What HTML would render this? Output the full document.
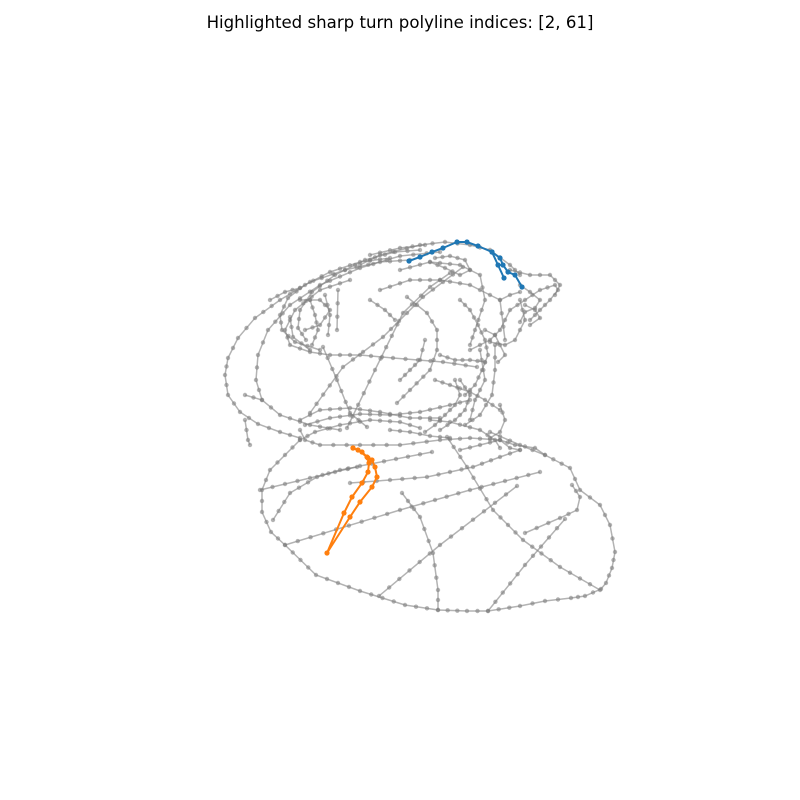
<!DOCTYPE html>
<html><head><meta charset="utf-8"><style>
body{margin:0;background:#fff;width:800px;height:800px;overflow:hidden}
svg{display:block}
</style></head><body>
<svg id="chart" width="800" height="800" viewBox="0 0 800 800" xmlns="http://www.w3.org/2000/svg">
<text x="400" y="28" text-anchor="middle" font-family="DejaVu Sans, Liberation Sans, sans-serif" font-size="16.6" fill="#000">Highlighted sharp turn polyline indices: [2, 61]</text>
<g id="grey"></g><g id="hl"></g>
</svg>
<script>
const greyLines = [
[[410,260],[380,262],[345,270],[310,282],[280,300],[255,318],[238,338],[228,358],[225,375],[228,395],[240,412],[258,424],[280,432],[300,438]],
[[440,252],[400,256],[360,268],[320,285],[290,305],[268,330],[258,355],[256,380],[262,400],[280,415],[310,425],[340,430]],
[[350,280],[320,290],[295,310],[285,330],[290,345],[310,352],[330,355],[360,355],[393,358],[443,362],[477,367]],
[[300,430],[305,440],[320,445],[360,445],[400,445],[440,440],[470,438],[500,440]],
[[300,440],[285,455],[270,470],[262,490],[262,512],[271,532],[285,545],[316,575],[360,591],[405,605],[438,610],[467,611],[488,611],[520,606],[545,601],[571,598],[585,596],[601,589],[606,583],[612,568],[615,552],[610,525],[600,505],[580,490],[570,468],[545,455],[520,445],[490,432]],
[[260,490],[310,478],[360,466],[432,452]],
[[285,545],[400,510],[470,490],[540,472]],
[[379,596],[440,545],[517,486]],
[[488,611],[525,565],[565,519]],
[[402,493],[420,517],[433,553],[438,590],[438,610]],
[[447,437],[467,467],[493,510],[523,540],[560,567],[600,590]],
[[273,520],[290,493],[317,477],[340,470],[357,467]],
[[350,483],[390,480],[427,477],[473,467],[500,457],[520,450]],
[[525,533],[560,518],[577,510],[580,497],[572,485]],
[[310,413],[343,367],[383,337],[423,297],[463,267]],
[[347,428],[375,370],[403,313],[430,287],[450,273]],
[[407,297],[427,313],[437,330],[437,350],[430,370],[410,390],[397,403]],
[[290,317],[293,337],[310,350]],
[[338,290],[337,330]],
[[323,347],[337,380],[350,413],[367,427]],
[[470,350],[490,340],[500,330],[505,320],[510,310],[525,300],[540,290],[555,285],[558,290],[550,300],[540,310],[530,320]],
[[510,270],[530,275],[550,275],[560,285],[555,295]],
[[460,380],[470,395],[465,410],[455,420],[440,430]],
[[480,350],[485,380],[475,400],[470,420]],
[[495,345],[495,370],[492,395],[480,415],[465,425]],
[[360,265],[380,255],[420,245],[445,242],[470,245],[490,250],[510,265],[520,275]],
[[380,290],[410,280],[440,280],[470,285],[490,295],[500,300],[505,340]],
[[300,300],[320,300],[330,310],[320,325],[305,330]],
[[400,270],[430,262],[460,265],[480,275],[485,300],[475,330],[470,345]],
[[520,300],[525,320],[515,340],[505,345],[490,342]],
[[435,380],[450,385],[470,392],[485,400],[500,410]],
[[430,420],[450,422],[480,430],[495,440],[500,448]],
[[245,395],[262,400]],
[[300,420],[320,410],[350,408],[380,412],[410,418],[440,418]],
[[390,258],[360,262],[330,272],[305,285],[288,298],[280,315],[282,330],[295,342],[320,350]],
[[420,250],[395,252],[365,260],[335,275],[312,292],[300,310],[298,328],[306,340]],
[[370,255],[400,248],[425,245]],
[[430,262],[445,268],[460,275],[470,270],[465,260],[450,256],[435,258]],
[[310,300],[315,315],[318,330],[312,345]],
[[325,295],[330,315],[328,335]],
[[300,440],[315,432],[340,425],[370,420],[400,422],[420,428]],
[[305,425],[330,418],[360,414],[390,415],[420,412],[450,405],[470,400]],
[[485,330],[495,335],[500,345],[505,355],[498,362]],
[[520,285],[530,292],[540,300],[535,308],[525,312],[520,322]],
[[525,305],[535,310],[540,318],[530,325]],
[[460,300],[470,310],[478,325],[485,340],[488,355],[482,370],[475,385],[465,395]],
[[440,355],[455,360],[470,360],[485,362]],
[[455,380],[460,395],[455,405],[445,415],[435,425],[425,432]],
[[500,300],[510,295],[520,292]],
[[500,405],[505,420],[500,432],[490,438]],
[[460,450],[480,445],[500,440],[510,448],[520,450]],
[[500,440],[515,445],[535,448],[545,455]],
[[390,430],[410,432],[430,436],[450,438]],
[[245,420],[248,440],[250,445]],
[[270,300],[285,292],[300,288]],
[[370,300],[385,310],[395,320]],
[[400,380],[410,370],[420,360],[425,340]]
];
const blueLine = [[409,261],[420,257],[432,252],[443,248],[457,242],[467,242],[478,246],[492,252],[500,258],[503,265],[508,272],[515,275],[522,287]];
const blueBranch = [[492,252],[498,265],[504,278]];
const orangeLine = [[353,448],[362,452],[368,458],[372,460],[375,467],[377,477],[372,487],[360,502],[350,517],[327,553],[344,513],[352,497],[362,483],[368,472],[369,463],[367,457],[358,450],[353,448]];
const NS='http://www.w3.org/2000/svg';
function draw(g,pts,color,w,r,op,name,fill){
  const pl=document.createElementNS(NS,'polyline');
  
  
  pl.setAttribute('points',pts.map(p=>p.join(',')).join(' '));
  pl.setAttribute('fill','none');pl.setAttribute('stroke',color);
  pl.setAttribute('stroke-width',w);pl.setAttribute('stroke-opacity',op);
  g.appendChild(pl);
  const dots=[];
  pts.forEach((p,i)=>{
    dots.push(p);
    if(fill&&i<pts.length-1){
      const q=pts[i+1];const d=Math.hypot(q[0]-p[0],q[1]-p[1]);
      const n=Math.floor(d/14);
      for(let k=1;k<=n;k++){const t=k/(n+1);dots.push([p[0]+(q[0]-p[0])*t,p[1]+(q[1]-p[1])*t]);}
    }
  });
  dots.forEach(p=>{
    const c=document.createElementNS(NS,'circle');
    
    
    c.setAttribute('cx',p[0]);c.setAttribute('cy',p[1]);c.setAttribute('r',r);
    c.setAttribute('fill',color);c.setAttribute('fill-opacity',op);
    g.appendChild(c);
  });
}
const gg=document.getElementById('grey'), hg=document.getElementById('hl');
greyLines.forEach(l=>draw(gg,l,'#808080',1.5,2.2,0.6,'grey-polyline',true));
draw(hg,blueLine,'#1f77b4',2,2.6,1,'highlight-polyline-2',false);
draw(hg,blueBranch,'#1f77b4',2,2.6,1,'highlight-polyline-2-branch',false);
draw(hg,orangeLine,'#ff7f0e',2,2.6,1,'highlight-polyline-61',false);
</script>
</body></html>
